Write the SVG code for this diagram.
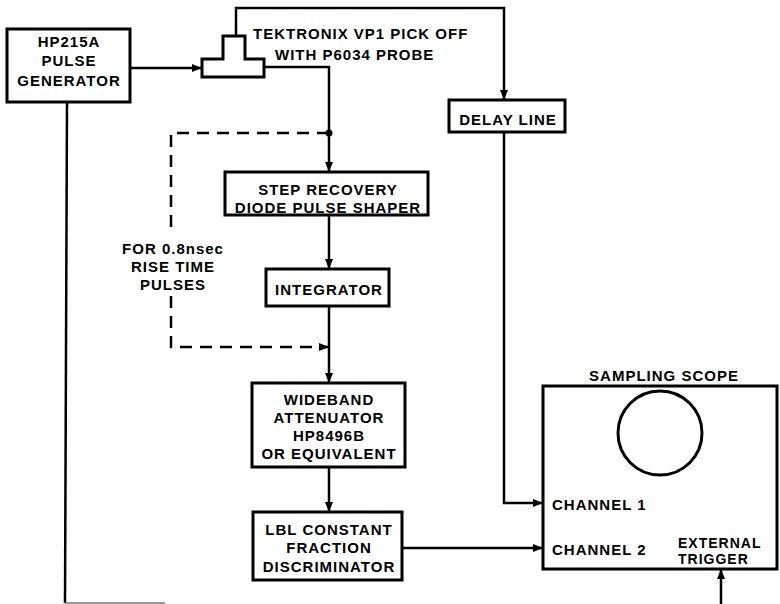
<svg xmlns="http://www.w3.org/2000/svg" width="780" height="604" viewBox="0 0 780 604">
<style>
  .box{fill:#fff;stroke:#000;stroke-width:3}
  .ln{fill:none;stroke:#000;stroke-width:2.5}
  .dash{fill:none;stroke:#000;stroke-width:2.5;stroke-dasharray:12 8}
  text{font-family:"Liberation Sans",Arial,sans-serif;font-weight:bold;font-size:15px;letter-spacing:1px;fill:#000}
  .c{text-anchor:middle}
  .s{font-size:14px}
</style>
<defs>
  <marker id="ah" viewBox="0 0 10 8" refX="10" refY="4" markerWidth="10" markerHeight="8" markerUnits="userSpaceOnUse" orient="auto">
    <path d="M0,0 L10,4 L0,8 Z" fill="#000"/>
  </marker>
</defs>
<rect width="780" height="604" fill="#fff"/>
<g id="connectors">
  <line class="ln" x1="130" y1="68" x2="202" y2="68" marker-end="url(#ah)"/>
  <polyline class="ln" points="236,36 236,8 504,8 504,100" marker-end="url(#ah)"/>
  <polyline class="ln" points="264,67 329,67 329,172" marker-end="url(#ah)"/>
  <circle cx="329" cy="133" r="3.5" fill="#000"/>
  <line class="ln" x1="329" y1="215" x2="329" y2="269" marker-end="url(#ah)"/>
  <line class="ln" x1="329" y1="306" x2="329" y2="383" marker-end="url(#ah)"/>
  <line class="ln" x1="329" y1="467" x2="329" y2="512" marker-end="url(#ah)"/>
  <polyline class="ln" points="504,132 504,503 543,503" marker-end="url(#ah)"/>
  <line class="ln" x1="402" y1="548" x2="543" y2="548" marker-end="url(#ah)"/>
  <line class="ln" x1="721" y1="604" x2="721" y2="569" marker-end="url(#ah)"/>
  <line class="ln" x1="67" y1="102" x2="65" y2="603"/>
  <line x1="65" y1="603" x2="165" y2="603" stroke="#777" stroke-width="1.5"/>
  <polyline class="dash" points="329,133 171,133 171,234"/>
  <polyline class="dash" points="171,296 171,347 329,347" marker-end="url(#ah)"/>
</g>
<g id="hp215a">
  <rect class="box" x="7" y="29" width="123" height="73"/>
  <text class="c" x="69" y="47">HP215A</text>
  <text class="c" x="69" y="66">PULSE</text>
  <text class="c" x="69" y="86">GENERATOR</text>
</g>
<g id="pickoff">
  <rect class="box" x="223" y="36" width="22" height="23"/>
  <rect class="box" x="202" y="59" width="62" height="18"/>
  <rect x="224.5" y="57" width="19" height="4" fill="#fff"/>
  <text x="253" y="39">TEKTRONIX VP1 PICK OFF</text>
  <text x="275" y="60">WITH P6034 PROBE</text>
</g>
<g id="delay">
  <rect class="box" x="449" y="100" width="116" height="32"/>
  <text class="c" x="508" y="125">DELAY LINE</text>
</g>
<g id="step">
  <rect class="box" x="225" y="172" width="203" height="43"/>
  <text class="c" x="328" y="195">STEP RECOVERY</text>
  <text class="c" x="328" y="213">DIODE PULSE SHAPER</text>
</g>
<g id="note">
  <text class="c" x="173" y="254">FOR 0.8nsec</text>
  <text class="c" x="173" y="272">RISE TIME</text>
  <text class="c" x="173" y="290">PULSES</text>
</g>
<g id="integrator">
  <rect class="box" x="266" y="269" width="123" height="37"/>
  <text class="c" x="329" y="295">INTEGRATOR</text>
</g>
<g id="attenuator">
  <rect class="box" x="252" y="383" width="153" height="84"/>
  <text class="c" x="329" y="405">WIDEBAND</text>
  <text class="c" x="329" y="423">ATTENUATOR</text>
  <text class="c" x="329" y="441">HP8496B</text>
  <text class="c" x="329" y="459">OR EQUIVALENT</text>
</g>
<g id="cfd">
  <rect class="box" x="253" y="512" width="149" height="68"/>
  <text class="c" x="329" y="535">LBL CONSTANT</text>
  <text class="c" x="329" y="553">FRACTION</text>
  <text class="c" x="329" y="572">DISCRIMINATOR</text>
</g>
<g id="scope">
  <text class="c" x="664" y="381">SAMPLING SCOPE</text>
  <rect class="box" x="543" y="386" width="234" height="183"/>
  <circle cx="660" cy="433" r="42" fill="none" stroke="#000" stroke-width="3"/>
  <text x="552" y="510">CHANNEL 1</text>
  <text x="552" y="555">CHANNEL 2</text>
  <text class="s" x="678" y="548">EXTERNAL</text>
  <text class="s" x="678" y="564">TRIGGER</text>
</g>
</svg>
